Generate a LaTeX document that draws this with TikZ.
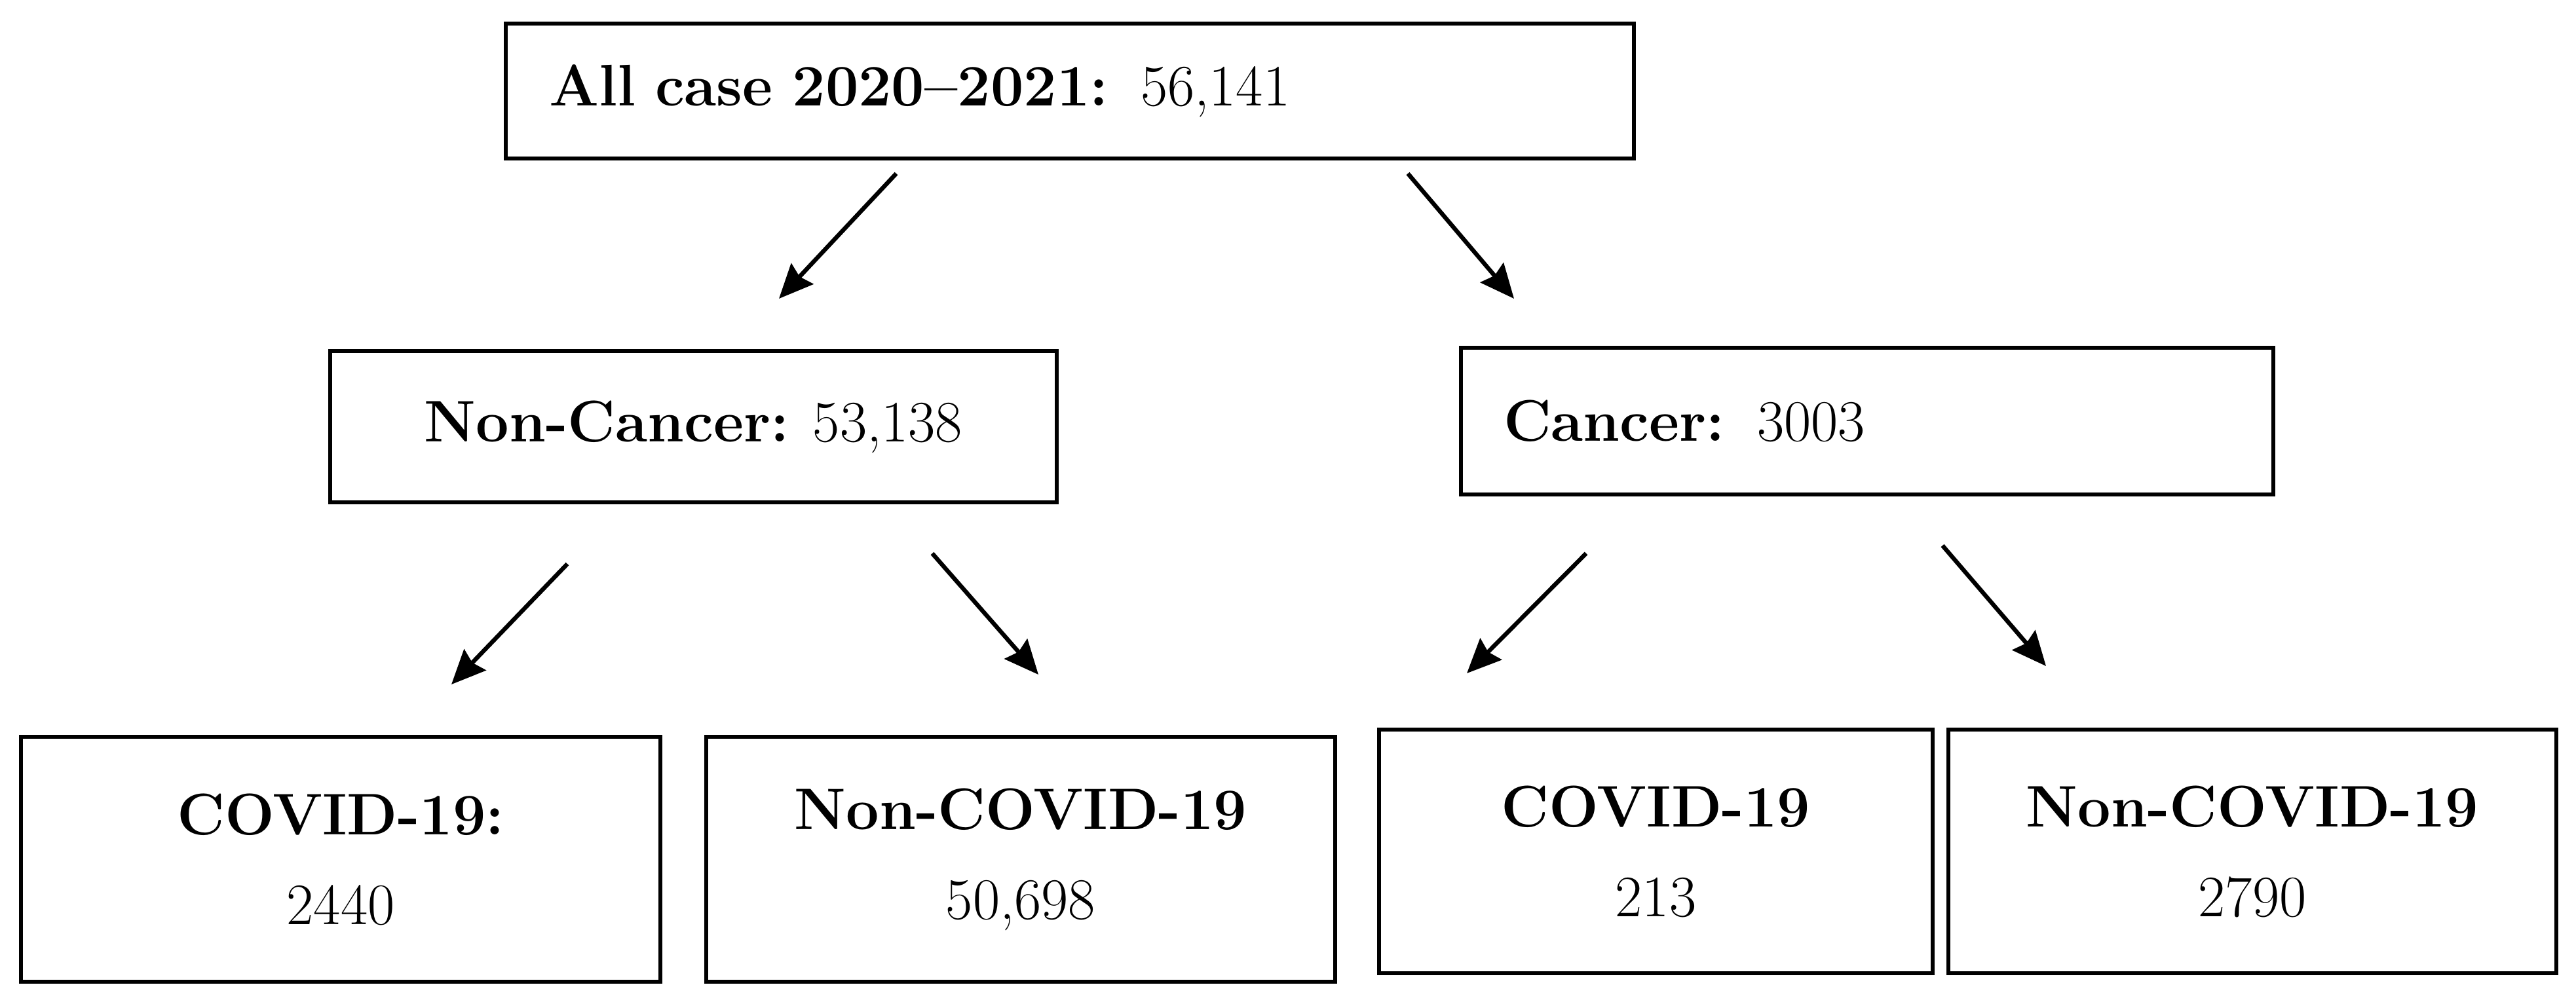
\documentclass[tikz,border=0pt]{standalone}
\usepackage{fontspec}
\usetikzlibrary{arrows.meta}
\begin{document}
\begin{tikzpicture}[
  box/.style={draw=black, line width=0.057cm, inner sep=0pt, font=\fontsize{25.5}{39}\selectfont},
  cbox/.style={box, align=center},
  lbox/.style={box, align=left},
  arr/.style={line width=0.065cm, -{Stealth[length=0.52cm,width=0.46cm,inset=0.06cm]}}
]
\useasboundingbox (0,0) rectangle (39.32,-15.32);
% top level
\node[lbox, minimum height=2.06cm, text width=15.9cm, inner xsep=0.66cm] (all) at (16.33,-1.39)
  {\textbf{All case 2020–2021:}\hspace{0.55em}56,141};
% second level
\node[cbox, minimum width=11.09cm, minimum height=2.31cm] (noncancer) at (10.585,-6.515)
  {\textbf{Non-Cancer:} 53,138};
\node[lbox, minimum height=2.24cm, text width=11.1cm, inner xsep=0.65cm] (cancer) at (28.5,-6.43)
  {\textbf{Cancer:}\hspace{0.55em}3003};
% third level
\node[cbox, minimum width=9.76cm, minimum height=3.74cm] (covidA) at (5.2,-13.12)
  {\textbf{COVID-19:}\\2440};
\node[cbox, minimum width=9.6cm, minimum height=3.74cm] (noncovidA) at (15.58,-13.12)
  {\textbf{Non-COVID-19}\\50,698};
\node[cbox, minimum width=8.45cm, minimum height=3.72cm] (covidB) at (25.275,-13.0)
  {\textbf{COVID-19}\\213};
\node[cbox, minimum width=9.28cm, minimum height=3.72cm] (noncovidB) at (34.38,-13.0)
  {\textbf{Non-COVID-19}\\2790};
% arrow ends
\coordinate (a1s) at (13.68,-2.65);  \coordinate (a1e) at (11.89,-4.56);
\coordinate (a2s) at (21.49,-2.65);  \coordinate (a2e) at (23.11,-4.56);
\coordinate (a3s) at (8.66,-8.61);   \coordinate (a3e) at (6.89,-10.45);
\coordinate (a4s) at (14.23,-8.45);  \coordinate (a4e) at (15.85,-10.30);
\coordinate (a5s) at (24.21,-8.45);  \coordinate (a5e) at (22.39,-10.28);
\coordinate (a6s) at (29.65,-8.33);  \coordinate (a6e) at (31.23,-10.17);
\draw[arr] (a1s) -- (a1e);
\draw[arr] (a2s) -- (a2e);
\draw[arr] (a3s) -- (a3e);
\draw[arr] (a4s) -- (a4e);
\draw[arr] (a5s) -- (a5e);
\draw[arr] (a6s) -- (a6e);
\end{tikzpicture}
\end{document}
